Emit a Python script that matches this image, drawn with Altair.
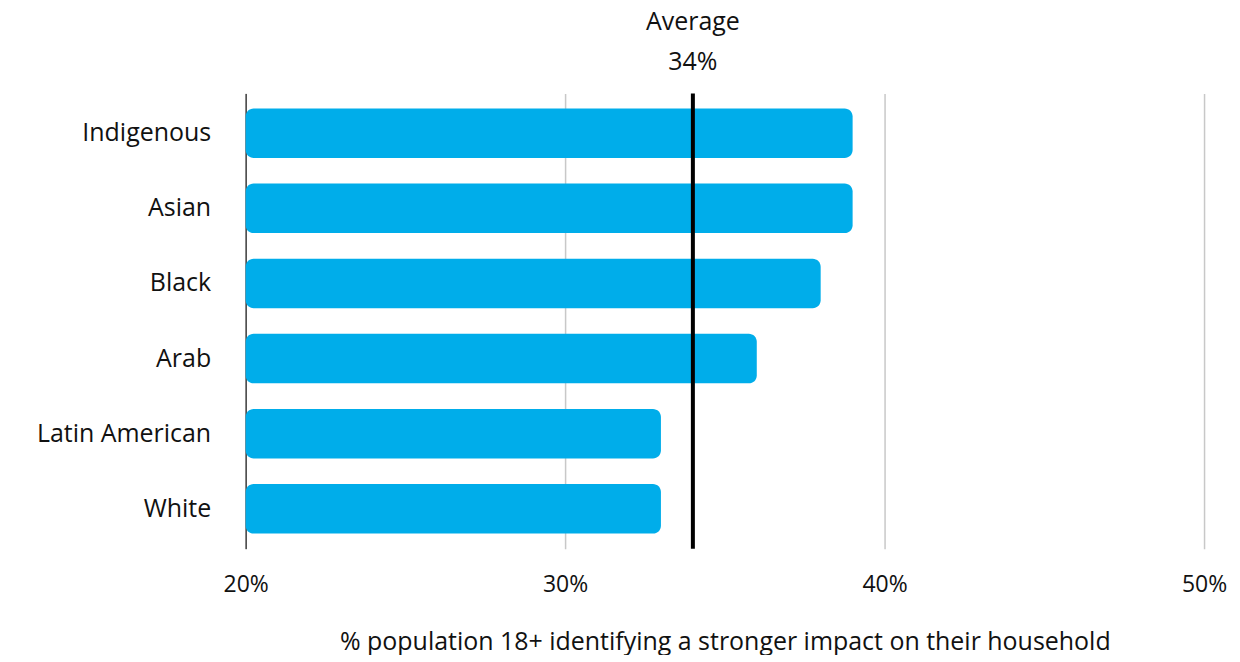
import altair as alt
import pandas as pd

groups = ["Indigenous", "Asian", "Black", "Arab", "Latin American", "White"]
values = [39, 39, 38, 36, 33, 33]
average = 34
tick_values = [20, 30, 40, 50]

FONT = "Open Sans"
BLUE = "#00ADEA"

df = pd.DataFrame({"group": groups, "value": values})
avg_df = pd.DataFrame({"avg": [average], "l1": ["Average"], "l2": [f"{average}%"]})

x_scale = alt.Scale(domain=[20, 50], nice=False, zero=False)
y_scale = alt.Scale(domain=groups, paddingInner=0.34, paddingOuter=0.2)

bars = alt.Chart(df).mark_bar(color=BLUE, cornerRadius=8).encode(
    y=alt.Y("group:N", scale=y_scale, sort=groups,
            axis=alt.Axis(title=None, ticks=False, labelPadding=35, labelFontSize=25,
                          labelFont=FONT, labelColor="#111111", domain=True,
                          domainColor="#000000", domainWidth=1, grid=False)),
    x=alt.X("value:Q", scale=x_scale,
            axis=alt.Axis(values=tick_values, labelExpr="datum.value + '%'",
                          title="% population 18+ identifying a stronger impact on their household",
                          titleFont=FONT, titleFontSize=25, titleFontWeight="normal",
                          titleColor="#111111", titlePadding=33,
                          labelFont=FONT, labelFontSize=23, labelColor="#111111",
                          labelPadding=25, labelFlush=False, ticks=False, domain=False,
                          grid=True, gridColor="#c8c8c8", gridWidth=1.5)),
    x2=alt.datum(20),
)

rule = alt.Chart(avg_df).mark_rule(color="#000000", strokeWidth=4).encode(
    x=alt.X("avg:Q", scale=x_scale)
)

t1 = alt.Chart(avg_df).mark_text(font=FONT, fontSize=25, color="#111111",
                                 baseline="middle", align="center").encode(
    x=alt.X("avg:Q", scale=x_scale), y=alt.value(-71), text="l1:N")
t2 = alt.Chart(avg_df).mark_text(font=FONT, fontSize=25, color="#111111",
                                 baseline="middle", align="center").encode(
    x=alt.X("avg:Q", scale=x_scale), y=alt.value(-31), text="l2:N")

chart = alt.layer(bars, rule, t1, t2).properties(
    width=960, height=456, background="white",
    padding={"left": 28, "top": 2, "right": 5, "bottom": 0},
).configure_view(stroke=None)

chart.save("out.html", embed_options={"renderer": "svg", "actions": False})
